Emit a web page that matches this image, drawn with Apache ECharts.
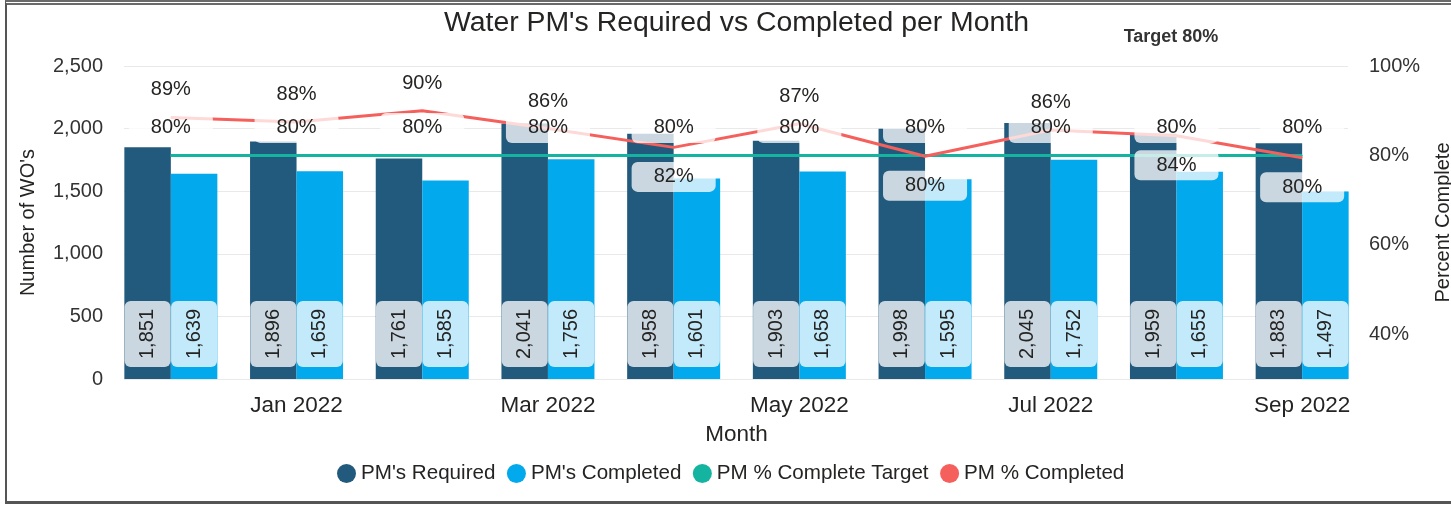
<!DOCTYPE html>
<html>
<head>
<meta charset="utf-8">
<script src="https://cdn.jsdelivr.net/npm/echarts@6/dist/echarts.min.js"></script>
<style>
  html, body { margin: 0; padding: 0; background: #fff; }
  #chart { position: absolute; left: 0; top: 0; width: 1451px; height: 505px; }
  #frame { position: absolute; left: 5px; top: 0; width: 1460px; height: 504px; box-sizing: border-box;
           border-top: 5px double #6a6a6a; border-left: 2px solid #555; border-bottom: 3px solid #555; pointer-events: none; }
</style>
</head>
<body>
<div id="chart"></div>
<div id="frame"></div>
<script>
const months = ['Dec 2021','Jan 2022','Feb 2022','Mar 2022','Apr 2022','May 2022','Jun 2022','Jul 2022','Aug 2022','Sep 2022'];
const required = [1851, 1896, 1761, 2041, 1958, 1903, 1998, 2045, 1959, 1883];
const completed = [1639, 1659, 1585, 1756, 1601, 1658, 1595, 1752, 1655, 1497];
const pctCompleted = [88.5, 87.5, 90.0, 86.0, 81.8, 87.1, 79.8, 85.7, 84.4, 79.5];
const pctTarget = [80, 80, 80, 80, 80, 80, 80, 80, 80, 80];
const pctLabelSide = ['top','top','top','top','bottom','top','bottom','top','bottom','bottom'];
const leftTicks = [0, 500, 1000, 1500, 2000, 2500];
const rightTicks = [40, 60, 80, 100];

const FONT = "'Liberation Sans', Arial, sans-serif";
const TXT = '#252423';
const boxBg = 'rgba(255,255,255,0.76)';

const chart = echarts.init(document.getElementById('chart'), null, { renderer: 'canvas' });

const barLabel = {
  show: true, position: 'insideBottom', distance: 12, rotate: 90,
  align: 'left', verticalAlign: 'middle',
  formatter: p => p.value.toLocaleString('en-US'),
  fontSize: 20, lineHeight: 22, fontFamily: FONT, color: TXT,
  backgroundColor: boxBg, padding: [12, 8, 12, 8], borderRadius: 6
};
const pctLabelBase = {
  show: true, fontSize: 20, lineHeight: 22, fontFamily: FONT, color: TXT,
  backgroundColor: boxBg, padding: [4, 22, 4, 22], borderRadius: 6,
  formatter: p => Math.round(p.value) + '%'
};

chart.setOption({
  animation: false,
  textStyle: { fontFamily: FONT },
  graphic: [
    { type: 'text', x: 736.5, y: 23, style: { text: "Water PM's Required vs Completed per Month", fontSize: 28.4, fontFamily: FONT, fill: TXT, align: 'center', verticalAlign: 'middle' } },
    { type: 'text', x: 1171, y: 37, style: { text: 'Target 80%', fontSize: 18, fontWeight: 'bold', fontFamily: FONT, fill: '#333', align: 'center', verticalAlign: 'middle' } }
  ],
  legend: {
    left: 332, top: 458, icon: 'circle', itemWidth: 19, itemHeight: 19, itemGap: 11.5,
    textStyle: { fontSize: 20.6, fontFamily: FONT, color: TXT },
    data: ["PM's Required", "PM's Completed", 'PM % Complete Target', 'PM % Completed']
  },
  grid: [
    { left: 108, right: 86, top: 66, bottom: 126, outerBoundsMode: 'none', containLabel: false },
    { left: 124, right: 103, top: 66, bottom: 126, outerBoundsMode: 'none', containLabel: false }
  ],
  xAxis: [
    {
      type: 'category', gridIndex: 0, data: months,
      axisLine: { show: false }, axisTick: { show: false },
      axisLabel: { interval: (i) => i % 2 === 1, fontSize: 22.5, color: TXT, fontFamily: FONT, margin: 15 },
      name: 'Month', nameLocation: 'middle', nameGap: 44,
      nameTextStyle: { fontSize: 22.5, color: TXT, fontFamily: FONT }
    },
    { type: 'category', gridIndex: 1, data: months, show: false }
  ],
  yAxis: [
    {
      type: 'value', gridIndex: 0, min: 0, max: 2500, interval: 500,
      splitLine: { show: false }, axisLine: { show: false }, axisTick: { show: false },
      axisLabel: { fontSize: 20, color: '#333', fontFamily: FONT, margin: 5,
        formatter: v => leftTicks.includes(v) ? v.toLocaleString('en-US') : '' },
      name: "Number of WO's", nameLocation: 'middle', nameRotate: 90, nameGap: 70,
      nameTextStyle: { fontSize: 20, color: TXT, fontFamily: FONT }
    },
    {
      type: 'value', gridIndex: 0, position: 'right', min: 30, max: 100, interval: 10,
      splitLine: { show: false }, axisLine: { show: false }, axisTick: { show: false },
      axisLabel: { fontSize: 20, color: '#333', fontFamily: FONT, margin: 4,
        formatter: v => rightTicks.includes(v) ? v + '%' : '' },
      name: 'Percent Complete', nameLocation: 'middle', nameRotate: 90, nameGap: 68,
      nameTextStyle: { fontSize: 20, color: TXT, fontFamily: FONT }
    },
    {
      type: 'value', gridIndex: 1, min: 0, max: 2500, interval: 500,
      axisLabel: { show: false }, axisLine: { show: false }, axisTick: { show: false },
      splitLine: { show: true, lineStyle: { color: '#e9e9e9', width: 1 } }
    }
  ],
  series: [
    {
      name: "PM's Required", type: 'bar', xAxisIndex: 0, yAxisIndex: 0,
      data: required, barWidth: 46.5, barGap: '0%',
      itemStyle: { color: '#225A7D' }, label: barLabel
    },
    {
      name: "PM's Completed", type: 'bar', xAxisIndex: 0, yAxisIndex: 0,
      data: completed, barWidth: 46.5, barGap: '0%',
      itemStyle: { color: '#02A9EC' }, label: barLabel
    },
    {
      name: 'PM % Complete Target', type: 'line', xAxisIndex: 0, yAxisIndex: 1,
      data: pctTarget, symbol: 'circle', symbolSize: 1,
      lineStyle: { color: '#15B4A0', width: 3 }, itemStyle: { color: '#15B4A0' },
      label: Object.assign({}, pctLabelBase, { position: 'top', distance: 12 })
    },
    {
      name: 'PM % Completed', type: 'line', xAxisIndex: 0, yAxisIndex: 1,
      data: pctCompleted.map((v, i) => ({
        value: v,
        label: { position: pctLabelSide[i], distance: pctLabelSide[i] === 'top' ? 12 : 14 }
      })),
      symbol: 'circle', symbolSize: 1,
      lineStyle: { color: '#F5605C', width: 3 }, itemStyle: { color: '#F5605C' },
      label: pctLabelBase
    }
  ]
});
</script>
</body>
</html>
